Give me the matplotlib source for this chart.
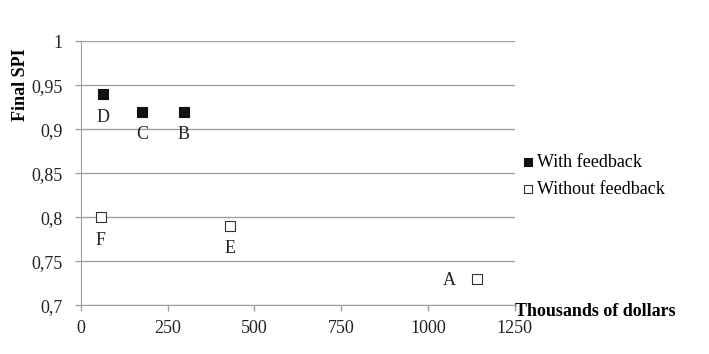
import matplotlib
matplotlib.use('Agg')
import matplotlib.pyplot as plt
from matplotlib.ticker import FuncFormatter

plt.rcParams['font.family'] = ['Liberation Serif', 'DejaVu Serif']

# projects with feedback
fb_names = ['D', 'C', 'B']
fb_cost = [63, 176, 297]
fb_spi = [0.94, 0.92, 0.92]

# projects without feedback
nofb_names = ['F', 'E', 'A']
nofb_cost = [58, 430, 1141]
nofb_spi = [0.80, 0.79, 0.73]

y_ticks = [0.7, 0.75, 0.8, 0.85, 0.9, 0.95, 1.0]
x_ticks = [0, 250, 500, 750, 1000, 1250]


def main():
    fig = plt.figure(figsize=(7.09, 3.54), dpi=100)
    ax = fig.add_axes([0.114, 0.138, 0.612, 0.745])

    ax.scatter(fb_cost, fb_spi, marker='s', s=52, c='#111111',
               edgecolors='#111111', linewidths=0.8, label='With feedback',
               zorder=3)
    ax.scatter(nofb_cost, nofb_spi, marker='s', s=52, c='white',
               edgecolors='#333333', linewidths=0.8, label='Without feedback',
               zorder=3)

    # point letters, below the marker except A which sits to the left
    for name, x, y in zip(fb_names + nofb_names[:2], fb_cost + nofb_cost[:2],
                          fb_spi + nofb_spi[:2]):
        ax.annotate(name, (x, y), xytext=(0, -16.5), textcoords='offset points',
                    ha='center', va='center', fontsize=13, color='#222222')
    ax.annotate(nofb_names[2], (nofb_cost[2], nofb_spi[2]), xytext=(-19.5, -1.5),
                textcoords='offset points', ha='center', va='center',
                fontsize=13, color='#222222')

    ax.set_xlim(0, 1250)
    ax.set_ylim(0.7, 1.0)
    ax.set_xticks(x_ticks)
    ax.set_yticks(y_ticks)
    ax.yaxis.set_major_formatter(
        FuncFormatter(lambda v, p: ('%g' % v).replace('.', ',')))
    ax.tick_params(labelsize=13, labelcolor='#222222', colors='#a0a0a0',
                   length=4, width=1)
    ax.tick_params(axis='x', pad=7)
    ax.tick_params(axis='y', pad=9)

    ax.grid(axis='y', color='#a0a0a0', linewidth=1)
    ax.set_axisbelow(True)
    for side in ['top', 'right']:
        ax.spines[side].set_visible(False)
    for side in ['left', 'bottom']:
        ax.spines[side].set_color('#a0a0a0')

    ax.set_ylabel('Final SPI', fontsize=13, fontweight='bold')
    ax.yaxis.set_label_coords(-0.138, 0.836)
    ax.yaxis.label.set_verticalalignment('center')
    ax.set_xlabel('Thousands of dollars', fontsize=13, fontweight='bold')
    ax.xaxis.set_label_coords(1.0, -0.025)
    ax.xaxis.label.set_horizontalalignment('left')
    ax.xaxis.label.set_verticalalignment('center')

    ax.legend(loc='center left', bbox_to_anchor=(0.99, 0.49), frameon=False,
              fontsize=13, handletextpad=0.0, markerscale=0.75,
              labelspacing=0.55, handlelength=1.1, borderaxespad=0.0)

    fig.savefig('out.png', dpi=100)


if __name__ == '__main__':
    main()
